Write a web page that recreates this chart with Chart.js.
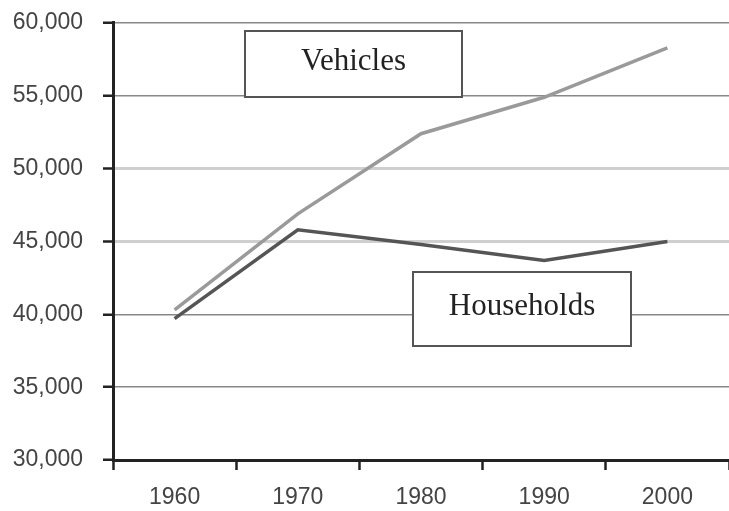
<!DOCTYPE html>
<html>
<head>
<meta charset="utf-8">
<script src="https://cdn.jsdelivr.net/npm/chart.js@4"></script>
<style>
  html, body { margin: 0; padding: 0; background: #fff; }
  #wrap { width: 729px; height: 511px; }
</style>
</head>
<body>
<div id="wrap"><canvas id="myChart" width="729" height="511"></canvas></div>
<script>
const years = ['1960', '1970', '1980', '1990', '2000']
const vehicles = [40300, 46900, 52400, 54900, 58300]
const households = [39700, 45800, 44800, 43700, 45000]
const yTicks = [30000, 35000, 40000, 45000, 50000, 55000, 60000]

// boxed series labels, drawn on top of the plot
const boxLabels = {
  id: 'boxLabels',
  afterDatasetsDraw (chart) {
    const ctx = chart.ctx
    const boxes = [
      { text: 'Vehicles', x: 245, y: 31, w: 217, h: 66 },
      { text: 'Households', x: 413, y: 272, w: 218, h: 74 }
    ]
    ctx.save()
    boxes.forEach(b => {
      ctx.fillStyle = '#fff'
      ctx.fillRect(b.x, b.y, b.w, b.h)
      ctx.strokeStyle = '#555'
      ctx.lineWidth = 2
      ctx.strokeRect(b.x, b.y, b.w, b.h)
      ctx.fillStyle = '#222'
      ctx.font = '31px "Liberation Serif", "DejaVu Serif", serif'
      ctx.textAlign = 'center'
      ctx.textBaseline = 'middle'
      ctx.fillText(b.text, b.x + b.w / 2, b.y + b.h / 2 - 2)
    })
    ctx.restore()
  }
}

const lightLines = [45000, 50000]

new Chart(document.getElementById('myChart'), {
  type: 'line',
  data: {
    labels: years,
    datasets: [
      {
        label: 'Vehicles',
        data: vehicles,
        borderColor: '#9a9a9a',
        borderWidth: 3.5,
        pointRadius: 0,
        tension: 0
      },
      {
        label: 'Households',
        data: households,
        borderColor: '#555',
        borderWidth: 3.5,
        pointRadius: 0,
        tension: 0
      }
    ]
  },
  options: {
    responsive: false,
    animation: false,
    layout: { padding: 0 },
    plugins: {
      legend: { display: false },
      tooltip: { enabled: false }
    },
    scales: {
      x: {
        offset: true,
        afterFit: axis => { axis.height = 51 },
        border: { color: '#222', width: 3 },
        grid: {
          offset: true,
          drawOnChartArea: false,
          drawTicks: true,
          tickLength: 10,
          tickColor: '#222',
          tickWidth: 2.5
        },
        ticks: {
          color: '#444',
          padding: 14,
          font: { family: '"Liberation Sans", Arial, sans-serif', size: 23 }
        }
      },
      y: {
        min: 30000,
        max: 60000,
        afterBuildTicks: axis => { axis.ticks = yTicks.map(v => ({ value: v })) },
        afterFit: axis => { axis.width = 113 },
        border: { color: '#222', width: 3 },
        grid: {
          color: c => lightLines.includes(c.tick.value) ? '#cfcfcf' : '#888',
          lineWidth: c => lightLines.includes(c.tick.value) ? 3 : 1.5,
          tickLength: 10,
          tickColor: '#222',
          tickWidth: 2.5
        },
        ticks: {
          color: '#444',
          padding: 20,
          // small line height keeps the plot top close to the 60,000 label
          font: { family: '"Liberation Sans", Arial, sans-serif', size: 23, lineHeight: 0.26 },
          callback: v => v.toLocaleString('en-US')
        }
      }
    }
  },
  plugins: [boxLabels]
})
</script>
</body>
</html>
